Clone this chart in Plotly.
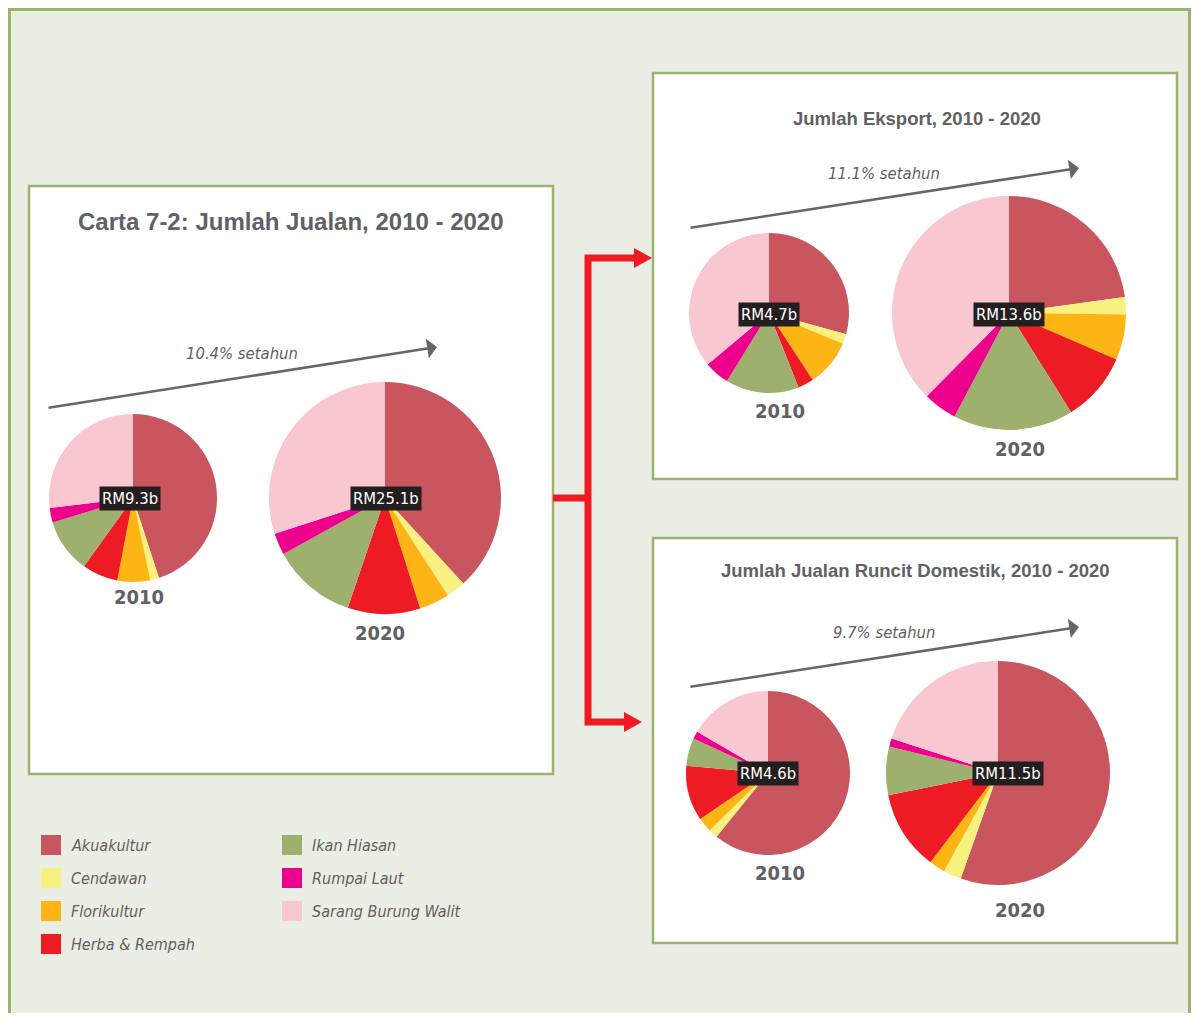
import plotly.graph_objects as go

OFF = 8  # page body margin: the figure's top-left corner sits at screen (8, 8)
W, H = 1199 - 2 * OFF, 1021 - 2 * OFF

# ---------------- data ----------------
categories = ["Akuakultur", "Cendawan", "Florikultur", "Herba & Rempah",
              "Ikan Hiasan", "Rumpai Laut", "Sarang Burung Walit"]
colors = ["#C9565E", "#F8F07F", "#FDB515", "#ED1C24", "#9DB06E", "#EC008C", "#F8C7D0"]

jualan_2010 = [45.0, 1.7, 6.3, 6.9, 10.4, 2.8, 26.9]
jualan_2020 = [38.2, 2.7, 4.2, 10.1, 11.8, 3.0, 30.0]
eksport_2010 = [29.3, 2.0, 9.5, 3.2, 14.8, 5.1, 36.1]
eksport_2020 = [22.8, 2.4, 6.3, 9.6, 16.6, 4.7, 37.6]
domestik_2010 = [60.8, 1.8, 2.9, 10.9, 5.5, 1.5, 16.6]
domestik_2020 = [55.4, 2.6, 2.3, 11.5, 7.0, 1.2, 20.0]

total_labels = ["RM9.3b", "RM25.1b", "RM4.7b", "RM13.6b", "RM4.6b", "RM11.5b"]
year_labels = ["2010", "2020", "2010", "2020", "2010", "2020"]
growth_labels = ["10.4% setahun", "11.1% setahun", "9.7% setahun"]
panel_titles = ["Carta 7-2: Jumlah Jualan, 2010 - 2020",
                "Jumlah Eksport, 2010 - 2020",
                "Jumlah Jualan Runcit Domestik, 2010 - 2020"]

series = [jualan_2010, jualan_2020, eksport_2010, eksport_2020, domestik_2010, domestik_2020]

# ---------------- layout helpers (screen pixel positions) ----------------
pie_centers = [(133, 498), (385, 498), (769, 313), (1009, 313), (768, 773), (998, 773)]
pie_radii = [84, 116, 80, 117, 82, 112]
total_pos = [(130, 498), (386, 498), (769, 314), (1009, 314), (768, 773), (1008, 773)]
year_pos = [(139, 597), (380, 633), (780, 411), (1020, 449), (780, 873), (1020, 910)]

GREEN = "#9DB26F"
BG = "#EBEEE4"
GRAY = "#616163"
NARROW = "DejaVu Sans Condensed, Liberation Sans Narrow, sans-serif"
SANS = "Liberation Sans, Arial, Helvetica, sans-serif"

fig = go.Figure()

for vals, (cx, cy), r in zip(series, pie_centers, pie_radii):
    fig.add_trace(go.Pie(
        labels=categories, values=vals, sort=False, direction="clockwise",
        rotation=0, textinfo="none", hoverinfo="label+percent",
        marker=dict(colors=colors, line=dict(width=0)),
        showlegend=False,
        domain=dict(x=[(cx - r - OFF) / W, (cx + r - OFF) / W],
                    y=[1 - (cy + r - OFF) / H, 1 - (cy - r - OFF) / H]),
    ))

shapes = []
# outer background
shapes.append(dict(type="rect", xref="x", yref="y", x0=9.5, y0=9.5, x1=1189.5, y1=1040,
                   fillcolor=BG, line=dict(color=GREEN, width=3), layer="below"))
# panels
for (x0, y0, x1, y1) in [(29, 186, 553, 774), (653, 73, 1177, 479), (653, 538, 1177, 943)]:
    shapes.append(dict(type="rect", xref="x", yref="y", x0=x0, y0=y0, x1=x1, y1=y1,
                       fillcolor="white", line=dict(color=GREEN, width=2.5), layer="below"))
# red connector
RED = "#ED1C24"
shapes.append(dict(type="path", xref="x", yref="y",
                   path="M553,498 L588,498 M588,254.5 L588,725.5 M584.5,258 L636,258 M584.5,722 L626,722",
                   line=dict(color=RED, width=7)))
shapes.append(dict(type="path", xref="x", yref="y", path="M634,248 L652,258 L634,268 Z",
                   fillcolor=RED, line=dict(color=RED, width=0)))
shapes.append(dict(type="path", xref="x", yref="y", path="M624,712 L642,722 L624,732 Z",
                   fillcolor=RED, line=dict(color=RED, width=0)))

# legend swatches
legend_pos = [(41, 845), (41, 878), (41, 911), (41, 944), (282, 845), (282, 878), (282, 911)]
for (lx, ly), c in zip(legend_pos, colors):
    shapes.append(dict(type="rect", xref="x", yref="y", x0=lx, y0=ly - 10, x1=lx + 20, y1=ly + 10,
                       fillcolor=c, line=dict(width=0)))

annotations = []
# titles
annotations.append(dict(x=291, y=221, text=f"<b>{panel_titles[0]}</b>", showarrow=False,
                        font=dict(family=SANS, size=24, color=GRAY)))
annotations.append(dict(x=917, y=118, text=f"<b>{panel_titles[1]}</b>", showarrow=False,
                        font=dict(family=SANS, size=18.5, color=GRAY)))
annotations.append(dict(x=915, y=570, text=f"<b>{panel_titles[2]}</b>", showarrow=False,
                        font=dict(family=SANS, size=18.5, color=GRAY)))

# growth arrows
arrows = [((47, 408), (437, 347)), ((689, 228), (1079, 168)), ((689, 687), (1079, 627))]
growth_pos = [(242, 353), (884, 173), (884, 632)]
for ((tx, ty), (hx, hy)), (gx, gy), gl in zip(arrows, growth_pos, growth_labels):
    annotations.append(dict(x=hx, y=hy, ax=tx, ay=ty, axref="x", ayref="y", text="",
                            showarrow=True, arrowhead=1, arrowsize=1.3, arrowwidth=2.5,
                            arrowcolor="#66666A", standoff=0))
    annotations.append(dict(x=gx, y=gy, text=f"<i>{gl}</i>", showarrow=False,
                            font=dict(family=NARROW, size=16.5, color=GRAY)))

# totals and years
for (tx, ty), tl in zip(total_pos, total_labels):
    annotations.append(dict(x=tx, y=ty, text=tl, showarrow=False, bgcolor="#231F20",
                            borderpad=2, font=dict(family=NARROW, size=16.5, color="white")))
for (yx, yy), yl in zip(year_pos, year_labels):
    annotations.append(dict(x=yx, y=yy, text=f"<b>{yl}</b>", showarrow=False,
                            font=dict(family=NARROW, size=20, color=GRAY)))

# legend text
for (lx, ly), cat in zip(legend_pos, categories):
    annotations.append(dict(x=lx + 28, y=ly, text=f"<i>{cat}</i>", showarrow=False,
                            xanchor="left", font=dict(family=NARROW, size=16, color=GRAY)))

for a in annotations:
    a.setdefault("xref", "x")
    a.setdefault("yref", "y")

fig.update_layout(
    width=W, height=H, margin=dict(l=0, r=0, t=0, b=0),
    paper_bgcolor="white", plot_bgcolor="rgba(0,0,0,0)",
    xaxis=dict(range=[OFF, W + OFF], visible=False, fixedrange=True, domain=[0, 1]),
    yaxis=dict(range=[H + OFF, OFF], visible=False, fixedrange=True, domain=[0, 1]),
    shapes=shapes, annotations=annotations, showlegend=False,
)

fig.write_html("out.html")
